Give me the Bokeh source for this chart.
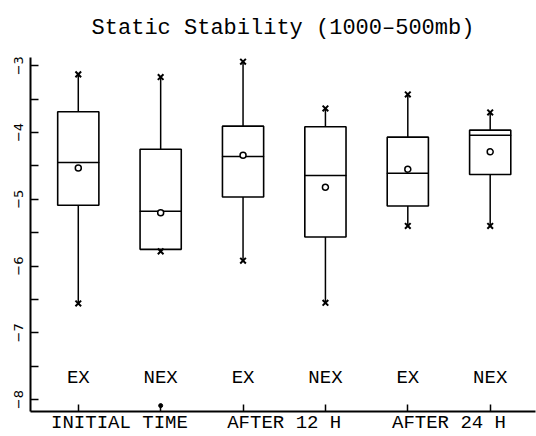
import numpy as np
from bokeh.plotting import figure
from bokeh.models import FixedTicker, Range1d, ColumnDataSource
from bokeh.core.properties import value
from bokeh.embed import file_html
from bokeh.resources import INLINE

# ---- data ----
title = "Static Stability (1000\u2013500mb)"
groups = ["EX", "NEX", "EX", "NEX", "EX", "NEX"]
periods = ["INITIAL TIME", "AFTER 12 H", "AFTER 24 H"]
whisker_hi = [-3.13, -3.17, -2.94, -3.64, -3.43, -3.70]
q3 = [-3.69, -4.25, -3.905, -3.915, -4.07, -3.965]
median = [-4.45, -5.18, -4.36, -4.645, -4.61, -4.04]
mean = [-4.53, -5.20, -4.34, -4.82, -4.55, -4.29]
q1 = [-5.09, -5.75, -4.965, -5.565, -5.10, -4.63]
whisker_lo = [-6.56, -5.78, -5.92, -6.55, -5.40, -5.40]
outlier_box = [2]
outlier_val = [-8.09]
y_ticks = [-8, -7, -6, -5, -4, -3]
y_tick_labels = ["\u22128", "\u22127", "\u22126", "\u22125", "\u22124", "\u22123"]
y_minor = [-7.5, -6.5, -5.5, -4.5, -3.5]

xpos = list(range(1, len(groups) + 1))
period_pos = [(xpos[2 * i] + xpos[2 * i + 1]) / 2 for i in range(len(periods))]

src = ColumnDataSource(dict(x=xpos, hi=whisker_hi, q3=q3, med=median, mean=mean,
                            q1=q1, lo=whisker_lo, g=groups))

p = figure(width=536, height=436, output_backend="svg", toolbar_location=None,
           x_range=Range1d(0.42, 6.55), y_range=Range1d(-8.178, -2.877),
           min_border_left=30, min_border_right=1, min_border_top=55, min_border_bottom=22)
p.outline_line_color = None
p.xgrid.visible = False
p.ygrid.visible = False

p.title.text = title
p.title.text_font = "Liberation Mono"
p.title.text_font_size = "22px"
p.title.text_font_style = "normal"
p.title.align = "center"
p.title.vertical_align = "top"
p.title.text_color = "black"
p.title.standoff = 30

BW = 0.5
# whiskers
p.segment(x0="x", y0="q3", x1="x", y1="hi", source=src, line_color="black", line_width=1.5)
p.segment(x0="x", y0="q1", x1="x", y1="lo", source=src, line_color="black", line_width=1.5)
# boxes
p.vbar(x="x", top="q3", bottom="q1", width=BW, source=src, fill_color="white",
       line_color="black", line_width=1.6)
# medians
p.rect(x="x", y="med", width=BW, height=0.0001, source=src, fill_color=None,
       line_color="black", line_width=1.5)
# extremes
p.scatter(x="x", y="hi", source=src, marker="x", size=8, line_color="black", line_width=2)
p.scatter(x="x", y="lo", source=src, marker="x", size=8, line_color="black", line_width=2)
# means
p.scatter(x="x", y="mean", source=src, marker="circle", size=6, fill_color="white",
          line_color="black", line_width=1.5)
# outlier
p.scatter(x=outlier_box, y=outlier_val, marker="circle", size=4, fill_color="black",
          line_color="black")
# subgroup labels
p.text(x="x", y=-7.67, text="g", source=src, text_align="center", text_baseline="middle",
       text_font=value("Liberation Mono"), text_font_size="19px", text_color="black")

# axes
ya = p.yaxis[0]
ya.ticker = FixedTicker(ticks=y_ticks, minor_ticks=y_minor)
ya.major_label_overrides = {t: l for t, l in zip(y_ticks, y_tick_labels)}
ya.major_label_orientation = "vertical"
ya.major_tick_in = 8
ya.major_tick_out = 0
ya.minor_tick_in = 8
ya.minor_tick_out = 0
ya.axis_line_width = 2
ya.major_tick_line_width = 1.5
ya.minor_tick_line_width = 1.5
ya.major_label_text_font = "DejaVu Sans"
ya.major_label_text_font_size = "13px"
ya.major_label_text_color = "black"
ya.major_label_standoff = 7
ya.axis_line_color = "black"

xa = p.xaxis[0]
xa.ticker = FixedTicker(ticks=period_pos, minor_ticks=xpos)
xa.major_label_overrides = {t: l for t, l in zip(period_pos, periods)}
xa.major_tick_line_color = None
xa.major_tick_in = 0
xa.major_tick_out = 0
xa.minor_tick_in = 7
xa.minor_tick_out = 0
xa.minor_tick_line_width = 1.5
xa.axis_line_width = 2
xa.axis_line_color = "black"
xa.major_label_text_font = "Liberation Mono"
xa.major_label_text_font_size = "19px"
xa.major_label_text_color = "black"
xa.major_label_standoff = 0

open("out.html", "w").write(file_html(p, INLINE))
